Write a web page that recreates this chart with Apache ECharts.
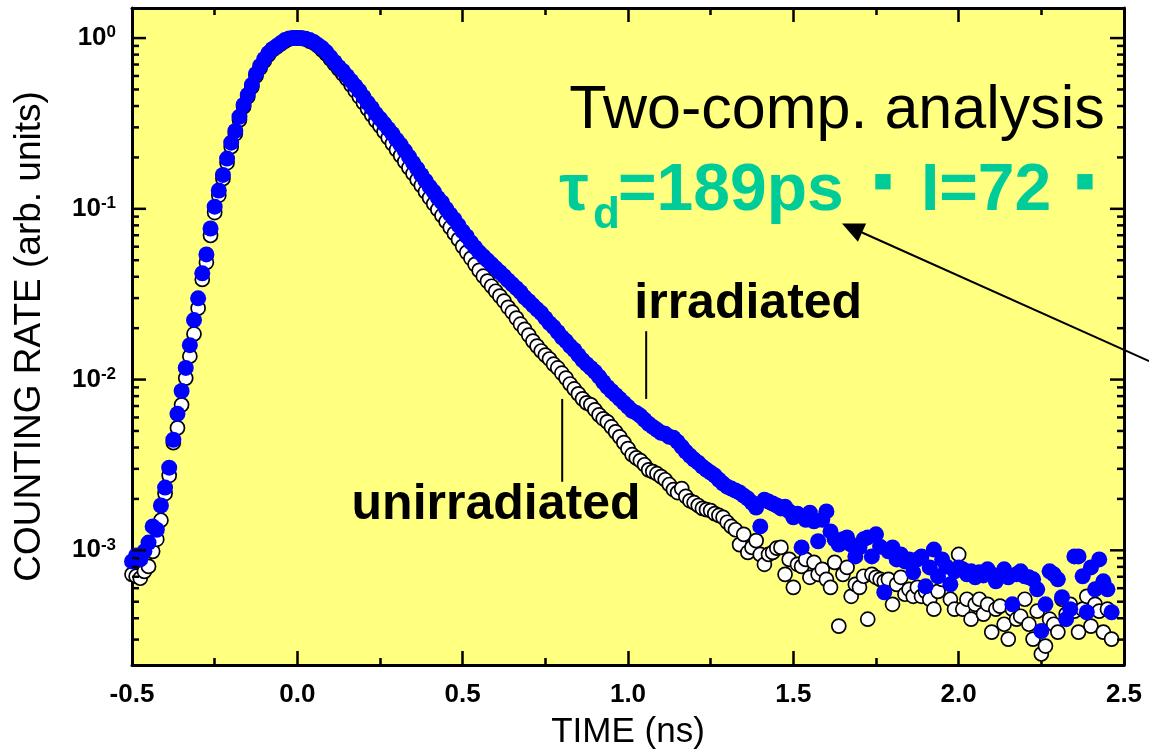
<!DOCTYPE html>
<html><head><meta charset="utf-8">
<script src="https://cdn.jsdelivr.net/npm/echarts@6/dist/echarts.min.js"></script>
<style>html,body{margin:0;padding:0;background:#fff}#c{width:1149px;height:755px}</style>
</head><body><div id="c"></div>
<script>
// time channels (ns)
const timeNs = [
-0.5,-0.4875,-0.475,-0.4625,-0.45,-0.4375,-0.425,-0.4125,
-0.4,-0.3875,-0.375,-0.3625,-0.35,-0.3375,-0.325,-0.3125,
-0.3,-0.2875,-0.275,-0.2625,-0.25,-0.2375,-0.225,-0.2125,
-0.2,-0.1875,-0.175,-0.1625,-0.15,-0.1375,-0.125,-0.1125,
-0.1,-0.0875,-0.075,-0.0625,-0.05,-0.0375,-0.025,-0.0125,
0,0.0125,0.025,0.0375,0.05,0.0625,0.075,0.0875,
0.1,0.1125,0.125,0.1375,0.15,0.1625,0.175,0.1875,
0.2,0.2125,0.225,0.2375,0.25,0.2625,0.275,0.2875,
0.3,0.3125,0.325,0.3375,0.35,0.3625,0.375,0.3875,
0.4,0.4125,0.425,0.4375,0.45,0.4625,0.475,0.4875,
0.5,0.5125,0.525,0.5375,0.55,0.5625,0.575,0.5875,
0.6,0.6125,0.625,0.6375,0.65,0.6625,0.675,0.6875,
0.7,0.7125,0.725,0.7375,0.75,0.7625,0.775,0.7875,
0.8,0.8125,0.825,0.8375,0.85,0.8625,0.875,0.8875,
0.9,0.9125,0.925,0.9375,0.95,0.9625,0.975,0.9875,
1.0,1.0125,1.025,1.0375,1.05,1.0625,1.075,1.0875,
1.1,1.1125,1.125,1.1375,1.15,1.1625,1.175,1.1875,
1.2,1.2125,1.225,1.2375,1.25,1.2625,1.275,1.2875,
1.3,1.3125,1.325,1.3375,1.35,1.3625,1.375,1.3875,
1.4,1.4125,1.425,1.4375,1.45,1.4625,1.475,1.4875,
1.5,1.5125,1.525,1.5375,1.55,1.5625,1.575,1.5875,
1.6,1.6125,1.625,1.6375,1.65,1.6625,1.675,1.6875,
1.7,1.7125,1.725,1.7375,1.75,1.7625,1.775,1.7875,
1.8,1.8125,1.825,1.8375,1.85,1.8625,1.875,1.8875,
1.9,1.9125,1.925,1.9375,1.95,1.9625,1.975,1.9875,
2.0,2.0125,2.025,2.0375,2.05,2.0625,2.075,2.0875,
2.1,2.1125,2.125,2.1375,2.15,2.1625,2.175,2.1875,
2.2,2.2125,2.225,2.2375,2.25,2.2625,2.275,2.2875,
2.3,2.3125,2.325,2.3375,2.35,2.3625,2.375,2.3875,
2.4,2.4125,2.425,2.4375,2.45,2.4625
];

// counting rate, unirradiated sample (open circles)
const unirradiated = [
7.23e-4,7.05e-4,6.86e-4,7.53e-4,8.05e-4,9.86e-4,1.16e-3,1.50e-3,
2.15e-3,2.74e-3,4.27e-3,5.21e-3,7.11e-3,1.02e-2,1.37e-2,1.85e-2,
2.62e-2,3.86e-2,4.86e-2,6.98e-2,9.51e-2,0.120,0.150,0.186,
0.231,0.275,0.332,0.396,0.453,0.518,0.600,0.668,
0.734,0.796,0.851,0.886,0.923,0.960,0.987,1.0,
1.0,1.0,0.987,0.960,0.935,0.898,0.851,0.807,
0.754,0.705,0.659,0.617,0.576,0.532,0.491,0.453,
0.418,0.385,0.355,0.328,0.306,0.283,0.261,0.241,
0.222,0.205,0.189,0.174,0.161,0.148,0.137,0.126,
0.116,0.107,0.0991,0.0914,0.0843,0.0778,0.0718,0.0662,
0.0603,0.0556,0.0513,0.0473,0.0436,0.0403,0.0377,0.0352,
0.0329,0.0308,0.0288,0.0265,0.0248,0.0229,0.0211,0.0197,
0.0182,0.0168,0.0157,0.0147,0.0139,0.0132,0.0123,0.0117,
0.0109,0.0102,9.42e-3,8.81e-3,8.24e-3,7.71e-3,7.30e-3,7.11e-3,
6.65e-3,6.21e-3,5.89e-3,5.65e-3,5.28e-3,4.94e-3,4.62e-3,4.27e-3,
3.94e-3,3.63e-3,3.48e-3,3.35e-3,3.17e-3,2.96e-3,2.89e-3,2.81e-3,
2.70e-3,2.59e-3,2.43e-3,2.27e-3,2.18e-3,2.30e-3,2.07e-3,1.95e-3,
1.90e-3,1.83e-3,1.76e-3,1.73e-3,1.71e-3,1.64e-3,1.60e-3,1.56e-3,
1.46e-3,1.38e-3,1.32e-3,1.08e-3,1.24e-3,9.72e-4,1.04e-3,1.14e-3,
9.46e-4,8.28e-4,9.46e-4,9.72e-4,1.03e-3,1.04e-3,7.23e-4,8.85e-4,
6.07e-4,8.28e-4,8.05e-4,8.85e-4,6.95e-4,8.50e-4,7.23e-4,7.74e-4,
6.76e-4,6.07e-4,8.50e-4,3.60e-4,7.23e-4,7.94e-4,5.38e-4,6.32e-4,
6.07e-4,7.05e-4,3.95e-4,7.23e-4,6.95e-4,6.76e-4,6.58e-4,6.76e-4,
4.83e-4,6.32e-4,6.95e-4,5.53e-4,5.91e-4,5.38e-4,6.07e-4,5.38e-4,
5.75e-4,5.17e-4,4.52e-4,5.75e-4,6.76e-4,7.43e-4,5.17e-4,4.52e-4,
9.46e-4,4.52e-4,5.17e-4,3.95e-4,4.83e-4,5.17e-4,4.23e-4,4.83e-4,
3.32e-4,4.52e-4,4.71e-4,3.69e-4,3.02e-4,4.52e-4,3.95e-4,4.11e-4,
5.17e-4,3.69e-4,3.02e-4,4.40e-4,2.47e-4,2.75e-4,3.95e-4,3.69e-4,
3.32e-4,5.17e-4,4.23e-4,4.83e-4,4.40e-4,3.32e-4,4.52e-4,5.38e-4,
3.60e-4,4.83e-4,4.40e-4,3.32e-4,4.52e-4,3.02e-4
];

// counting rate, irradiated sample (filled blue circles)
const irradiated = [
8.61e-4,9.33e-4,8.85e-4,9.86e-4,1.11e-3,1.38e-3,1.32e-3,1.83e-3,
2.33e-3,3.05e-3,4.44e-3,6.30e-3,8.57e-3,1.17e-2,1.59e-2,2.23e-2,
2.99e-2,4.19e-2,5.41e-2,7.67e-2,0.103,0.128,0.158,0.197,
0.244,0.286,0.346,0.406,0.465,0.532,0.617,0.687,
0.754,0.817,0.863,0.898,0.935,0.973,0.995,1.0,
1.0,0.998,0.99,0.973,0.947,0.910,0.874,0.828,
0.774,0.724,0.677,0.642,0.600,0.561,0.525,0.491,
0.453,0.418,0.390,0.360,0.337,0.315,0.294,0.275,
0.254,0.237,0.219,0.202,0.186,0.172,0.158,0.146,
0.135,0.126,0.116,0.109,0.100,0.0927,0.0867,0.0800,
0.0737,0.0689,0.0636,0.0594,0.0556,0.0527,0.0499,0.0473,
0.0448,0.0425,0.0403,0.0381,0.0361,0.0343,0.0325,0.0303,
0.0288,0.0272,0.0258,0.0245,0.0229,0.0214,0.0203,0.0190,
0.0177,0.0168,0.0157,0.0149,0.0139,0.0130,0.0123,0.0117,
0.0111,0.0104,9.68e-3,9.06e-3,8.57e-3,8.13e-3,7.71e-3,7.30e-3,
6.92e-3,6.56e-3,6.38e-3,6.13e-3,5.81e-3,5.51e-3,5.28e-3,5.08e-3,
4.88e-3,4.81e-3,4.62e-3,4.56e-3,4.32e-3,4.04e-3,3.78e-3,3.58e-3,
3.40e-3,3.26e-3,3.09e-3,2.96e-3,2.85e-3,2.74e-3,2.59e-3,2.46e-3,
2.36e-3,2.30e-3,2.24e-3,2.18e-3,2.09e-3,2.01e-3,1.90e-3,1.78e-3,
1.38e-3,1.98e-3,1.93e-3,1.88e-3,1.83e-3,1.76e-3,1.80e-3,1.69e-3,
1.56e-3,1.64e-3,1.04e-3,1.51e-3,1.66e-3,1.48e-3,1.13e-3,1.51e-3,
1.69e-3,1.29e-3,1.16e-3,1.08e-3,1.16e-3,1.19e-3,1.08e-3,9.21e-4,
1.04e-3,1.16e-3,1.19e-3,9.21e-4,1.24e-3,1.05e-3,5.68e-4,9.86e-4,
1.04e-3,8.85e-4,9.46e-4,8.61e-4,8.85e-4,7.43e-4,8.85e-4,9.21e-4,
6.15e-4,7.94e-4,1.01e-3,7.05e-4,8.85e-4,8.05e-4,6.32e-4,7.53e-4,
7.94e-4,7.74e-4,7.23e-4,7.53e-4,6.95e-4,7.43e-4,7.13e-4,7.74e-4,
7.23e-4,6.58e-4,7.13e-4,7.74e-4,6.95e-4,4.83e-4,7.23e-4,7.53e-4,
7.05e-4,6.95e-4,6.76e-4,5.91e-4,3.37e-4,4.83e-4,7.53e-4,7.23e-4,
6.76e-4,5.31e-4,3.95e-4,4.52e-4,9.21e-4,9.21e-4,7.05e-4,4.34e-4,
7.94e-4,5.91e-4,8.85e-4,6.58e-4,5.91e-4,4.34e-4
];

// axis ticks and labels
const xTickLabels = ['-0.5','0.0','0.5','1.0','1.5','2.0','2.5'];
const yMajorTicks = [1, 0.1, 0.01, 0.001];
const yMinorTicks = [
  0.9,0.8,0.7,0.6,0.5,0.4,0.3,0.2,
  0.09,0.08,0.07,0.06,0.05,0.04,0.03,0.02,
  0.009,0.008,0.007,0.006,0.005,0.004,0.003,0.002,
  0.0009,0.0008,0.0007,0.0006,0.0005,0.0004,0.0003
];

const X_MIN = -0.5, X_MAX = 2.5, Y_MIN = 2.13e-4, Y_MAX = 1.5;
const FONT = '"Liberation Sans", Arial, Helvetica, sans-serif';

const chart = echarts.init(document.getElementById('c'), null, {renderer: 'canvas'});

const tickData = yMajorTicks.map(v => [X_MIN, v, 1]).concat(yMinorTicks.map(v => [X_MIN, v, 0]));

const frameLine = {show: true, onZero: false, lineStyle: {color: '#000', width: 3}};

const option = {
  animation: false,
  backgroundColor: '#ffffff',
  grid: {left: 132, right: 25, top: 8, bottom: 88, show: true, backgroundColor: '#ffff80', borderWidth: 0},
  xAxis: [
    {
      type: 'value', min: X_MIN, max: X_MAX, interval: 0.5, position: 'bottom',
      name: 'TIME (ns)', nameLocation: 'middle', nameGap: 50,
      nameTextStyle: {fontFamily: FONT, fontSize: 35, color: '#000'},
      axisLine: frameLine,
      axisTick: {show: true, inside: true, length: 14, lineStyle: {color: '#000', width: 2.5}},
      minorTick: {show: true, splitNumber: 2, length: 7, lineStyle: {color: '#000', width: 2.5}},
      axisLabel: {
        margin: 17, fontFamily: FONT, fontSize: 26, fontWeight: 'bold', color: '#000',
        formatter: v => xTickLabels[Math.round((v - X_MIN) / 0.5)]
      },
      splitLine: {show: false}, minorSplitLine: {show: false}
    },
    {
      type: 'value', min: X_MIN, max: X_MAX, interval: 0.5, position: 'top',
      axisLine: frameLine,
      axisTick: {show: true, inside: true, length: 14, lineStyle: {color: '#000', width: 2.5}},
      minorTick: {show: true, splitNumber: 2, length: 7, lineStyle: {color: '#000', width: 2.5}},
      axisLabel: {show: false}, splitLine: {show: false}
    }
  ],
  yAxis: [
    {
      type: 'log', logBase: 10, min: Y_MIN, max: Y_MAX, position: 'left',
      name: 'COUNTING RATE (arb. units)', nameLocation: 'middle', nameGap: 84, nameRotate: 90,
      nameTextStyle: {fontFamily: FONT, fontSize: 37, color: '#000'},
      axisLine: frameLine,
      axisTick: {show: false}, minorTick: {show: false},
      axisLabel: {
        margin: 16, showMinLabel: false, showMaxLabel: false,
        fontFamily: FONT, fontSize: 26, fontWeight: 'bold', color: '#000',
        formatter: v => {
          const l = Math.log10(v), e = Math.round(l);
          if (Math.abs(l - e) > 1e-6) return '';
          return '{b|10}{s|' + e + '}';
        },
        rich: {
          b: {fontFamily: FONT, fontSize: 26, fontWeight: 'bold', color: '#000', lineHeight: 28},
          s: {fontFamily: FONT, fontSize: 17, fontWeight: 'bold', color: '#000', verticalAlign: 'top', lineHeight: 18}
        }
      },
      splitLine: {show: false}
    },
    {
      type: 'log', logBase: 10, min: Y_MIN, max: Y_MAX, position: 'right',
      axisLine: frameLine, axisTick: {show: false}, axisLabel: {show: false}, splitLine: {show: false}
    }
  ],
  series: [
    {
      type: 'custom', name: 'yticks', xAxisIndex: 0, yAxisIndex: 0, clip: false, silent: true, z: 6,
      data: tickData,
      renderItem: (params, api) => {
        const v = api.value(1), L = api.value(2) ? 14 : 7;
        const pl = api.coord([X_MIN, v]);
        const pr = api.coord([X_MAX, v]);
        const st = {stroke: '#000', lineWidth: 2.5};
        return {type: 'group', children: [
          {type: 'line', shape: {x1: pl[0], y1: pl[1], x2: pl[0] + L, y2: pl[1]}, style: st},
          {type: 'line', shape: {x1: pr[0] - L, y1: pr[1], x2: pr[0], y2: pr[1]}, style: st}
        ]};
      }
    },
    {
      type: 'scatter', name: 'unirradiated', xAxisIndex: 0, yAxisIndex: 0, clip: false, silent: true, z: 3,
      symbol: 'circle', symbolSize: 14,
      itemStyle: {color: '#ffffff', borderColor: '#000000', borderWidth: 1.7, opacity: 1},
      data: timeNs.map((t, i) => [t, unirradiated[i]])
    },
    {
      type: 'scatter', name: 'irradiated', xAxisIndex: 0, yAxisIndex: 0, clip: false, silent: true, z: 4,
      symbol: 'circle', symbolSize: 16,
      itemStyle: {color: '#0000ff', opacity: 1},
      data: timeNs.map((t, i) => [t, irradiated[i]])
    }
  ]
};
chart.setOption(option);

// annotations placed in data coordinates
const P = (t, v) => chart.convertToPixel({seriesIndex: 1}, [t, v]);
function txt(t, v, text, font, color, align) {
  const p = P(t, v);
  return {type: 'text', x: p[0], y: p[1], silent: true, z: 100,
    style: {text: text, font: font, fill: color, align: align || 'left', verticalAlign: 'middle',
            textAlign: align || 'left', textVerticalAlign: 'middle'}};
}
function seg(t1, v1, t2, v2, w) {
  const a = P(t1, v1), b = P(t2, v2);
  return {type: 'line', silent: true, z: 100, shape: {x1: a[0], y1: a[1], x2: b[0], y2: b[1]},
    style: {stroke: '#000', lineWidth: w}};
}
function arrow(tTail, vTail, tTip, vTip) {
  const a = P(tTail, vTail), b = P(tTip, vTip);
  const dx = b[0] - a[0], dy = b[1] - a[1], len = Math.hypot(dx, dy);
  const ux = dx / len, uy = dy / len, hl = 22, hw = 10;
  const bx = b[0] - ux * hl, by = b[1] - uy * hl;
  return [
    {type: 'line', silent: true, z: 100, shape: {x1: a[0], y1: a[1], x2: bx, y2: by}, style: {stroke: '#000', lineWidth: 2}},
    {type: 'polygon', silent: true, z: 100, shape: {points: [[b[0], b[1]], [bx - uy * hw, by + ux * hw], [bx + uy * hw, by - ux * hw]]}, style: {fill: '#000'}}
  ];
}
const TEAL = '#00cc99';
const BIG = 'bold 66px ' + FONT;
chart.setOption({
  graphic: [
    txt(0.822, 0.372, 'Two-comp. analysis', 'normal 61px ' + FONT, '#000'),
    txt(0.792, 0.1253, 'τ', BIG, TEAL),
    txt(0.894, 0.0914, 'd', 'bold 44px ' + FONT, TEAL),
    txt(0.970, 0.1253, '=189ps', BIG, TEAL),
    txt(1.771, 0.1443, '■', '20px "DejaVu Sans"', TEAL, 'center'),
    txt(1.886, 0.1253, 'I=72', BIG, TEAL),
    txt(2.382, 0.1443, '■', '20px "DejaVu Sans"', TEAL, 'center'),
    txt(1.019, 0.0276, 'irradiated', 'bold 50px ' + FONT, '#000'),
    txt(0.164, 1.83e-3, 'unirradiated', 'bold 50px ' + FONT, '#000'),
    seg(1.055, 0.0192, 1.055, 7.70e-3, 2),
    seg(0.801, 7.70e-3, 0.801, 2.52e-3, 2)
  ].concat(arrow(2.576, 0.01284, 1.647, 0.0820))
});
</script>
</body></html>
